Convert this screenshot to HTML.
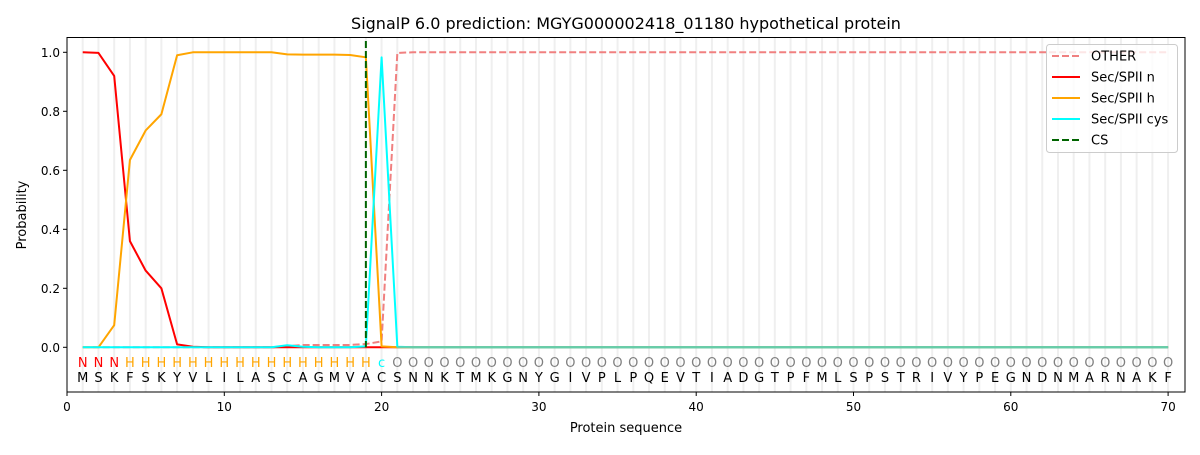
<!DOCTYPE html><html><head><style>body{margin:0;background:#fff}svg text{font-family:"DejaVu Sans","Liberation Sans",sans-serif}</style></head><body>
<svg id="s" width="1200" height="450" xmlns="http://www.w3.org/2000/svg"></svg>
<script>
const s=document.getElementById('s');
const X=v=>67+v*15.73, Y=v=>347.3-v*295;
let h='';
h+='<text x="626" y="29" font-size="16" text-anchor="middle">SignalP 6.0 prediction: MGYG000002418_01180 hypothetical protein</text>';
for(let i=1;i<=70;i++)h+=`<line x1="${X(i)}" x2="${X(i)}" y1="37.5" y2="392" stroke="#efefef" stroke-width="2"/>`;
function arr(m,def){const a=[];for(let i=1;i<=70;i++)a.push(m[i]!==undefined?m[i]:def(i));return a;}
const n=arr({1:1,2:0.998,3:0.92,4:0.36,5:0.26,6:0.2,7:0.01,8:0.002},()=>0);
const hh=arr({1:0,2:0,3:0.075,4:0.635,5:0.735,6:0.79,7:0.99,8:1,9:1,10:1,11:1,12:1,13:1,14:0.993,15:0.992,16:0.992,17:0.992,18:0.991,19:0.983,20:0.003},()=>0);
const c=arr({14:0.007,15:0.002,19:0.003,20:0.983,21:0.002},()=>0);
const o=arr({14:0.004,15:0.008,16:0.008,17:0.008,18:0.008,19:0.011,20:0.02},i=>i>=21?(i==21?0.998:1):0);
const pl=(a,col,ex)=>`<polyline fill="none" stroke="${col}" stroke-width="2" stroke-linejoin="round" ${ex||''} points="${a.map((v,i)=>X(i+1)+','+Y(v)).join(' ')}"/>`;
h+=pl(o,'#f08080','stroke-dasharray="7,3"');
h+=pl(n,'red');h+=pl(hh,'orange');h+=pl(c,'cyan');
h+=`<line x1="${X(21)}" x2="${X(70)}" y1="${Y(0)}" y2="${Y(0)}" stroke="#66cdaa" stroke-width="2"/>`;
h+=`<line x1="${X(19)}" x2="${X(19)}" y1="41" y2="${Y(0)}" stroke="#006400" stroke-width="2" stroke-dasharray="7,3"/>`;
const seq="MSKFSKYVLILASCAGMVACSNNKTMKGNYGIVPLPQEVTIADGTPFMLSPSTRIVYPEGNDNMARNAKF";
for(let i=1;i<=70;i++){let l,col;if(i<=3){l='N';col='red'}else if(i<=19){l='H';col='orange'}else if(i==20){l='c';col='cyan'}else{l='O';col='gray'}
h+=`<text x="${X(i)}" y="367" font-size="13" text-anchor="middle" fill="${col}">${l}</text>`;
h+=`<text x="${X(i)}" y="382" font-size="13" text-anchor="middle">${seq[i-1]||''}</text>`;}
h+='<rect x="67" y="37.5" width="1118" height="354.5" fill="none" stroke="#000" stroke-width="1"/>';
for(let t=0;t<=70;t+=10){h+=`<line x1="${X(t)}" x2="${X(t)}" y1="392" y2="396" stroke="#000"/><text x="${X(t)}" y="411" font-size="12" text-anchor="middle">${t}</text>`;}
for(let t=0;t<=5;t++){const v=t*0.2;h+=`<line x1="63" x2="67" y1="${Y(v)}" y2="${Y(v)}" stroke="#000"/><text x="60" y="${Y(v)+4.5}" font-size="12" text-anchor="end">${v.toFixed(1)}</text>`;}
h+='<text x="626" y="432" font-size="13" text-anchor="middle">Protein sequence</text>';
h+='<text x="26" y="215" font-size="13" text-anchor="middle" transform="rotate(-90 26 215)">Probability</text>';
h+='<rect x="1046.5" y="44.5" width="131" height="108" rx="3" fill="#fff" fill-opacity="0.8" stroke="#ccc"/>';
const L=[['OTHER','#f08080',1],['Sec/SPII n','red',0],['Sec/SPII h','orange',0],['Sec/SPII cys','cyan',0],['CS','#006400',1]];
L.forEach((e,i)=>{const y=56+i*21;h+=`<line x1="1052" x2="1080" y1="${y}" y2="${y}" stroke="${e[1]}" stroke-width="2" ${e[2]?'stroke-dasharray="7,3"':''}/><text x="1091" y="${y+4.5}" font-size="13">${e[0]}</text>`;});
s.innerHTML=h;
</script></body></html>
